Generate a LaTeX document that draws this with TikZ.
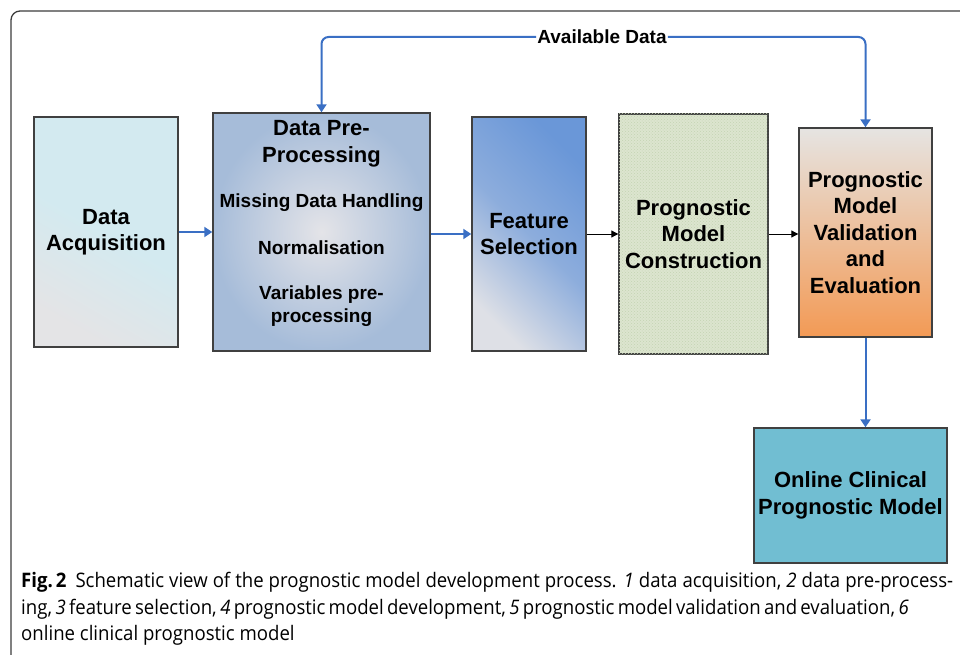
\documentclass[tikz,border=0pt]{standalone}
\usepackage{fontspec}
\setmainfont{Liberation Sans}
\newfontfamily\capfont{Open Sans}[FakeStretch=0.93]
\usetikzlibrary{arrows.meta,patterns,calc}
\definecolor{frame}{HTML}{3C3C3C}
\definecolor{bord}{HTML}{404040}
\definecolor{arrblue}{HTML}{3A6FC4}
\definecolor{dacyan}{HTML}{D3EAF0}
\definecolor{dagray}{HTML}{E4E4E6}
\definecolor{dppin}{HTML}{E4E4E8}
\definecolor{dppout}{HTML}{A6BCD9}
\definecolor{fsblue}{HTML}{6A97D8}
\definecolor{fslight}{HTML}{DEE0E6}
\definecolor{pmcgreen}{HTML}{DCE5CF}
\definecolor{pmcdot}{HTML}{C4D3B2}
\definecolor{valtop}{HTML}{E6E4E2}
\definecolor{valbot}{HTML}{F39A55}
\definecolor{onl}{HTML}{71BED2}
\tikzset{
  box/.style={draw=bord, line width=1.4pt, inner sep=0pt, align=center,
    font=\fontsize{22}{26.5}\selectfont\bfseries},
  blarrow/.style={draw=arrblue, line width=2pt, -{Triangle[length=8pt,width=10pt]}},
  bkarrow/.style={draw=black, line width=1pt, -{Triangle[length=7pt,width=7pt]}},
  ttl/.style={inner sep=0pt, font=\fontsize{22}{26.5}\selectfont\bfseries, align=center},
  itm/.style={inner sep=0pt, font=\fontsize{19}{22.5}\selectfont\bfseries, align=center},
  capline/.style={inner sep=0pt, anchor=base west, font=\capfont\fontsize{20}{26}\selectfont}
}
\begin{document}
\begin{tikzpicture}[x=1pt,y=-1pt]
\useasboundingbox (0,0) rectangle (960,655);
\fill[white] (0,0) rectangle (960,655);
% frame
\draw[frame, line width=1.3pt, rounded corners=9pt] (980,11) -- (11,11) -- (11,680);

% boxes
\node[box, minimum width=144pt, minimum height=230pt,
      left color=dagray, right color=dacyan, middle color=dacyan, shading angle=150] (da) at (106,232)
      {Data\\Acquisition};
\node[box, minimum width=217pt, minimum height=238pt,
      inner color=dppin, outer color=dppout] (dpp) at (321.5,232) {};
\node[box, minimum width=114pt, minimum height=234pt,
      left color=fslight, right color=fsblue, middle color=fsblue!70!fslight, shading angle=135] (fs) at (529,234)
      {Feature\\Selection};
\node[box, minimum width=149pt, minimum height=240pt, fill=pmcgreen,
      postaction={pattern=crosshatch dots, pattern color=pmcdot}] (pmc) at (693.5,234)
      {Prognostic\\Model\\Construction};
\node[box, minimum width=133pt, minimum height=209pt,
      top color=valtop, bottom color=valbot] (val) at (865.5,232.5)
      {Prognostic\\Model\\Validation\\and\\Evaluation};
\node[box, minimum width=193pt, minimum height=135pt, fill=onl] (onl) at (850.5,495.5)
      {Online Clinical\\Prognostic Model};

% DPP texts
\node[ttl] (dppt) at (321.5,144) {Data Pre-\\Processing};
\node[itm] (dppa) at (321.5,203) {Missing Data Handling};
\node[itm] (dppb) at (321.5,248) {Normalisation};
\node[itm] (dppc) at (321.5,306) {Variables pre-\\processing};

% arrows
\draw[blarrow] (da.east) -- (da.east -| dpp.west);
\draw[blarrow] (fs.west -| dpp.east) -- (fs.west);
\draw[bkarrow] (fs.east) -- (fs.east -| pmc.west);
\draw[bkarrow] (pmc.east) -- (pmc.east -| val.west);
\draw[blarrow] (val.south) -- (val.south |- onl.north);

% available data loop
\node[inner sep=1pt, font=\fontsize{19}{22}\selectfont\bfseries] (avd) at (602,37) {Available Data};
\draw[blarrow, rounded corners=7pt] (avd.west) -| (dpp.north);
\draw[blarrow, rounded corners=7pt] (avd.east) -| (val.north);

% caption
\node[capline] (c1) at (21,587) {\makebox[932pt][s]{\textbf{Fig.\kern3pt 2}\hspace{9pt}Schematic view of the prognostic model development process. \textit{1} data acquisition, \textit{2} data pre-process-}};
\node[capline] (c2) at (21,614) {\makebox[877pt][s]{ing, \textit{3} feature selection, \textit{4} prognostic model development, \textit{5} prognostic model validation and evaluation, \textit{6}}};
\node[capline] (c3) at (21,640) {online clinical prognostic model};
\end{tikzpicture}
\end{document}
